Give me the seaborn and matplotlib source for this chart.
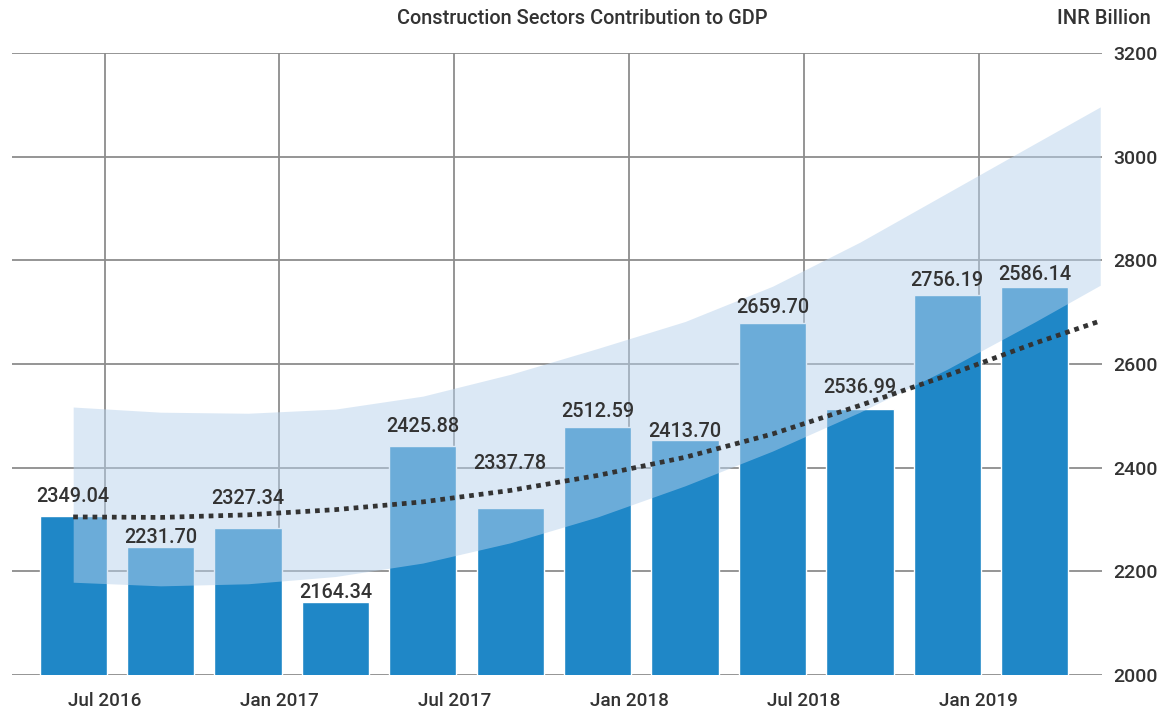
import numpy as np
import pandas as pd
import seaborn as sns
import matplotlib.pyplot as plt

quarters = ["Jul 2016", "Oct 2016", "Jan 2017", "Apr 2017", "Jul 2017", "Oct 2017",
            "Jan 2018", "Apr 2018", "Jul 2018", "Oct 2018", "Jan 2019", "Apr 2019"]
bar_values = [2307, 2247, 2284, 2141, 2442, 2322, 2479, 2454, 2680, 2513, 2734, 2749]
bar_labels = ["2349.04", "2231.70", "2327.34", "2164.34", "2425.88", "2337.78",
              "2512.59", "2413.70", "2659.70", "2536.99", "2756.19", "2586.14"]

# trend line and its band, read at each bar and at the right end
trend_x = list(range(12)) + [11.75]
trend = [2305, 2304, 2309, 2319, 2334, 2356, 2385, 2420, 2465, 2520, 2578, 2640, 2683]
band_upper = [2517, 2507, 2505, 2513, 2538, 2580, 2630, 2682, 2750, 2835, 2930, 3025, 3096]
band_lower = [2179, 2172, 2176, 2190, 2216, 2255, 2305, 2365, 2432, 2507, 2590, 2681, 2752]

tick_labels = ["Jul 2016", "Jan 2017", "Jul 2017", "Jan 2018", "Jul 2018", "Jan 2019"]

# gap between bar top and its label (points), labels were placed by hand
label_gap = [10, 3, 17, 3, 10, 28, 7, 2, 7, 11.5, 6.5, 5]

sns.set_theme(style="white")
plt.rcParams['font.family'] = ['Roboto', 'DejaVu Sans']
plt.rcParams['font.weight'] = 'medium'
text_col = '#333333'

df = pd.DataFrame({'quarter': quarters, 'value': bar_values})

fig = plt.figure(figsize=(11.57, 7.12), dpi=100)
ax = fig.add_axes([12/1157, 1 - 675/712, 1090/1157, 622/712])

sns.barplot(data=df, x='quarter', y='value', color='#1f87c7', saturation=1,
            width=0.77, ax=ax, zorder=2)

ax.fill_between(trend_x, band_lower, band_upper, color='#b8d2ec', alpha=0.5,
                lw=0, zorder=3)
ax.plot(trend_x, trend, color='#333333', lw=3.4, linestyle=(0, (1, 1.05)),
        dash_capstyle='butt', zorder=4)

for i, (v, lab) in enumerate(zip(bar_values, bar_labels)):
    ax.annotate(lab, (i, v), xytext=(0, label_gap[i]), textcoords='offset points',
                ha='center', va='baseline', fontsize=14.3, color=text_col, zorder=5)

ax.set_ylim(2000, 3200)
ax.set_xlim(-0.70, 11.77)
ax.set_yticks(range(2000, 3201, 200))
ax.set_xticks(np.arange(0, 12, 2) + 0.36)
ax.set_xticklabels(tick_labels)
ax.yaxis.tick_right()
ax.tick_params(axis='y', length=0, pad=8, labelsize=14, labelcolor=text_col)
ax.tick_params(axis='x', length=0, pad=12, labelsize=13.6, labelcolor=text_col)
ax.set_xlabel('')
ax.set_ylabel('')
ax.grid(True, color='#8c8c8c', lw=1.3)
ax.set_axisbelow(True)
sns.despine(ax=ax, left=True, bottom=True, right=True, top=True)

fig.text(582/1157, 1 - 18/712, 'Construction Sectors Contribution to GDP',
         ha='center', va='center', fontsize=14.3, color=text_col)
fig.text(1151/1157, 1 - 18/712, 'INR Billion', ha='right', va='center',
         fontsize=14.5, color=text_col)

plt.savefig('out.png', dpi=100)
